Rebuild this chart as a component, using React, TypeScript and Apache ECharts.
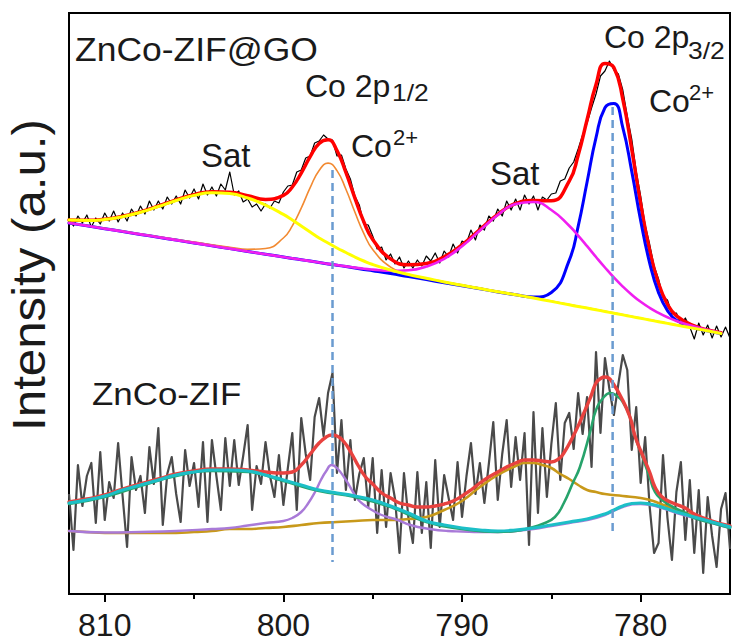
import React, { useEffect, useRef } from "react";
import * as echarts from "echarts";

const FONT = '"Liberation Sans", Arial, Helvetica, sans-serif';

// ---------- axes ----------
const xMin = 775;
const xMax = 812;
const majorTicks = [810, 800, 790, 780];
const minorTicks = [805, 795, 785];
const yMin = 0;
const yMax = 581; // arbitrary intensity units

// ---------- ZnCo-ZIF@GO (upper spectrum) ----------
const topFitEnergy = [
  812, 811, 810, 809, 808, 807, 806, 805, 804, 803, 802, 801, 800,
  799.5, 799, 798.5, 798, 797.5, 797, 796.5, 796, 795.5, 795,
  794, 793, 792, 791, 790, 789, 788, 787, 786, 785, 784,
  783.5, 783, 782.5, 782, 781.5, 781, 780.5, 780, 779.5, 779, 778.5, 778,
  777, 776, 775.5,
];
const topEnvelope = [
  374.1, 373.7, 374.8, 377.7, 382.1, 388.0, 394.1, 399.4, 402.2, 401.8, 398.2, 394.6, 398.6,
  407.0, 420.9, 437.3, 450.6, 454.2, 443.3, 421.5, 396.1, 372.4, 354.6,
  335.1, 329.3, 330.6, 337.1, 349.1, 364.3, 379.7, 390.5, 393.4, 393.2, 412.9,
  438.8, 474.2, 509.4, 530.6, 526.5, 494.9, 444.8, 390.1, 343.6, 310.4, 289.7, 278.2,
  268.1, 263.1, 261.2,
];
const topSatA = [
  373.9, 373.5, 374.5, 377.3, 381.7, 387.5, 393.5, 398.6, 401.2, 400.4, 396.0, 388.9, 379.6,
  374.0, 368.0, 362.0, 356.0, 351.0, 346.0, 341.5, 337.0, 333.0, 329.5,
  324.0, 319.5, 315.8, 312.0, 308.7, 305.4, 302.2, 299.2, 296.0, 292.6, 289.2,
  287.5, 285.9, 284.2, 282.5, 280.8, 279.1, 277.4, 275.7, 274.0, 272.3, 270.6, 268.9,
  265.6, 262.2, 260.5,
];
const topCo2p12 = [
  371.2, 368.4, 365.6, 362.9, 360.0, 357.3, 354.5, 351.9, 349.2, 346.8, 344.7, 345.5, 356.0,
  368.1, 385.9, 406.3, 423.5, 430.9, 423.4, 404.7, 382.0, 360.6, 344.5,
  326.9, 319.8, 315.8, 312.3, 309.1, 305.9, 302.7, 299.6, 296.4, 292.9, 289.5,
  287.8, 286.2, 284.5, 282.8, 281.1, 279.4, 277.6, 275.9, 274.2, 272.5, 270.8, 269.1,
  265.8, 262.4, 260.7,
];
const topSatB = [
  371.0, 368.2, 365.3, 362.5, 359.6, 356.8, 353.9, 351.1, 348.2, 345.4, 342.5, 339.8, 337.0,
  335.6, 334.3, 332.9, 331.5, 330.1, 328.9, 327.6, 326.4, 325.2, 324.4,
  323.2, 323.7, 327.4, 335.2, 347.8, 363.4, 379.0, 389.9, 392.0, 384.0, 368.2,
  358.3, 347.8, 337.0, 326.5, 316.5, 307.4, 299.3, 292.2, 286.2, 281.1, 276.7, 273.1,
  267.4, 262.9, 261.0,
];
const topCo2p32 = [
  371.0, 368.2, 365.3, 362.5, 359.6, 356.8, 353.9, 351.1, 348.2, 345.4, 342.5, 339.8, 337.0,
  335.6, 334.3, 332.9, 331.5, 330.1, 328.8, 327.4, 326.0, 324.6, 323.3,
  320.5, 317.4, 314.4, 311.3, 308.3, 305.2, 302.1, 299.2, 297.0, 301.5, 333.6,
  367.7, 412.0, 456.3, 486.3, 490.5, 466.3, 422.6, 373.4, 331.2, 301.4, 283.4, 273.8,
  266.1, 262.2, 260.5,
];
// raw counts, 812 -> 775 eV in 0.25 eV steps (one row per eV)
const topRawStart = 812;
const topRawStep = 0.25;
const topRaw = [
  374,
  368, 378, 371, 379,
  367, 376, 370, 381,
  373, 383, 372, 381,
  373, 385, 378, 388,
  380, 393, 384, 393,
  385, 397, 390, 398,
  390, 404, 396, 405,
  395, 410, 399, 407,
  398, 410, 404, 422,
  399, 403, 392, 395,
  387, 390, 383, 390,
  386, 393, 391, 402,
  408, 409, 422, 424,
  436, 438, 451, 453,
  459, 455, 454, 438,
  439, 425, 415, 398,
  389, 370, 369, 358,
  345, 347, 334, 340,
  330, 337, 326, 333,
  326, 334, 328, 338,
  333, 341, 331, 343,
  337, 350, 341, 353,
  351, 364, 354, 369,
  364, 378, 373, 385,
  378, 393, 384, 395,
  384, 399, 390, 398,
  384, 397, 394, 400,
  401, 413, 415, 426,
  432, 445, 459, 471,
  486, 500, 518, 523,
  533, 524, 520, 504,
  478, 455, 423, 398,
  369, 350, 328, 315,
  297, 294, 280, 281,
  270, 276, 267, 255,
  271, 259, 269, 256,
  268, 257, 267, 256,
];

// ---------- ZnCo-ZIF (lower spectrum) ----------
// raw counts, 812 -> 775 eV in 0.25 eV steps (one row per eV)
const botRawStart = 812;
const botRawStep = 0.25;
const botRaw = [
  100,
  44, 129, 88, 118,
  131, 71, 142, 74,
  112, 96, 151, 98,
  47, 137, 104, 118,
  81, 147, 110, 166,
  69, 120, 137, 100,
  72, 144, 108, 131,
  87, 152, 72, 154,
  118, 84, 156, 108,
  154, 109, 138, 169,
  84, 128, 110, 152,
  118, 97, 139, 89,
  126, 161, 84, 176,
  140, 114, 177, 196,
  158, 201, 221, 121,
  174, 104, 154, 94,
  120, 136, 87, 136,
  61, 124, 67, 121,
  95, 41, 121, 76,
  51, 122, 61, 112,
  46, 134, 67, 119,
  96, 74, 132, 77,
  118, 151, 100, 131,
  91, 130, 172, 94,
  140, 174, 107, 157,
  114, 161, 49, 182,
  81, 166, 97, 150,
  191, 114, 171, 181,
  145, 201, 160, 197,
  127, 242, 161, 236,
  205, 179, 210, 239,
  224, 144, 187, 111,
  157, 88, 41, 51,
  139, 76, 34, 102,
  132, 54, 114, 41,
  104, 21, 97, 58,
  27, 85, 101, 45,
];
const botEnvelope: [number, number][] = [
  [812, 92], [811, 95], [810, 99], [809, 105], [808, 110], [807, 115], [806, 120], [805, 123],
  [804, 125], [803, 125], [802, 124], [801, 122], [800, 121], [799.5, 122], [799, 129],
  [798.5, 140], [798, 151], [797.6, 157], [797.3, 159], [797, 158], [796.6, 152], [796.2, 141],
  [795.8, 128], [795.4, 117], [795, 110], [794.5, 101], [794, 96], [793.5, 91], [793, 89],
  [792.5, 87], [792, 87], [791.5, 88], [791, 90], [790.5, 93], [790, 98], [789.5, 104],
  [789, 111], [788.5, 117], [788, 122], [787.5, 127], [787, 131], [786.5, 134], [786, 134],
  [785.5, 133], [785, 132], [784.6, 135], [784.3, 141], [783.8, 157], [783.4, 172],
  [782.8, 197], [782.5, 211], [782.2, 216], [782.0, 217], [781.8, 216], [781.6, 212],
  [781.1, 197], [780.6, 177], [780.3, 157], [779.9, 139], [779.5, 122], [779.2, 107],
  [778.8, 97], [778.2, 91], [777.5, 86], [777, 80], [776, 73], [775, 68],
];
const botBackgroundSat: [number, number][] = [
  [812, 91], [811, 94], [810, 98], [809, 104], [808, 109], [807, 114], [806, 119], [805, 122],
  [804, 124], [803, 124], [802, 123], [801, 119], [800, 114], [799, 109], [798, 104], [797, 101],
  [796, 98], [795, 94], [794, 88], [793, 81], [792, 73], [791, 69], [790, 66], [789, 64],
  [788, 63], [787, 64], [786, 66], [785, 69], [784, 72], [783, 75], [782, 80], [781.5, 84],
  [781, 88], [780.5, 90.5], [780, 91], [779.5, 90], [779, 88], [778, 82], [777, 77], [776, 72],
  [775, 67],
];
const botSat: [number, number][] = [
  [812, 63], [811, 62], [810, 61], [809, 61], [808, 61], [807, 61], [806, 61], [805, 62],
  [804, 63], [803, 65], [802, 65], [801, 66], [800, 67], [799, 69], [798, 71], [797, 72],
  [796, 73], [795, 74], [794, 74], [793, 75], [792, 77], [791, 84], [790, 93], [789, 107],
  [788, 119], [787, 128], [786.5, 131], [786, 131], [785.5, 129], [785, 126], [784.5, 120],
  [784, 115], [783.5, 109], [783, 104], [782.5, 102], [782, 100], [781, 98], [780, 96],
  [779.5, 94], [779, 91], [778, 84], [777, 78], [776, 72], [775, 67],
];
const botCo2p12: [number, number][] = [
  [812, 63], [810, 61.5], [808, 62], [806, 63], [804, 65], [803, 66], [802, 68.5], [801, 71],
  [800, 73], [799.5, 76], [799, 82], [798.6, 91], [798.2, 103], [797.9, 114], [797.6, 123],
  [797.3, 129], [797, 126], [796.5, 114], [796.1, 102], [795.8, 94], [795.4, 88], [795.05, 84],
  [794.5, 79], [793.6, 74], [792.9, 69], [791.8, 65], [790.8, 63], [790, 62.5], [789, 62],
  [788, 62], [787, 63], [786, 65], [785, 68], [784, 71], [783, 74], [782, 79], [781, 87],
  [780, 90], [779, 87], [778, 81], [777, 76], [776, 71], [775, 66],
];
const botCo2p32: [number, number][] = [
  [812, 90], [810, 97], [808, 108], [806, 118], [804, 123], [802, 122], [800, 113], [798, 103],
  [796, 97], [794, 87], [792, 72], [790, 65], [788, 62], [787, 63], [786.2, 66], [785.5, 70],
  [784.8, 77], [784.3, 91], [783.8, 111], [783.4, 127], [782.8, 164], [782.5, 184],
  [782.1, 196], [781.7, 201], [781.4, 199], [781.0, 192], [780.6, 177], [780.3, 157],
  [779.9, 137], [779.5, 117], [779.2, 102], [778.8, 94], [778.2, 87], [777.5, 81], [777, 76],
  [776, 71], [775, 66],
];

// ---------- reference lines (peak positions) ----------
const peakLines = [
  { energy: 797.25, from: 424, to: 32 },
  { energy: 781.57, from: 487, to: 63 },
];

const zip = (xs: number[], ys: number[]) => xs.map((x, i) => [x, ys[i]]);
const grid = (start: number, step: number, ys: number[]) => ys.map((y, i) => [+(start - i * step).toFixed(2), y]);

function fitLine(data: any[], color: string, width: number) {
  return {
    type: "line",
    data,
    symbol: "none",
    smooth: 0.5,
    lineStyle: { color, width, cap: "round", join: "round" },
    silent: true,
  };
}
function rawLine(data: any[], color: string, width: number) {
  return {
    type: "line",
    data,
    symbol: "none",
    lineStyle: { color, width, join: "round" },
    silent: true,
  };
}

function txt(text: string, x: number, y: number, size: number, extra: any = {}) {
  const { align, ...rest } = extra;
  return {
    type: "text",
    x,
    y,
    silent: true,
    z: 100,
    ...rest,
    style: {
      text,
      fontSize: size,
      fontFamily: FONT,
      fill: "#1a1a1a",
      align: align || "left",
      verticalAlign: "middle",
      textAlign: align || "left",
      textVerticalAlign: "middle",
    },
  };
}

export default function App() {
  const ref = useRef<HTMLDivElement>(null);
  useEffect(() => {
    if (!ref.current) return;
    const chart = echarts.init(ref.current, null, { renderer: "svg" });
    const series: any[] = [
      rawLine(grid(topRawStart, topRawStep, topRaw), "#000000", 1.2),
      fitLine(zip(topFitEnergy, topEnvelope), "#ff0000", 3.5),
      fitLine(zip(topFitEnergy, topCo2p32), "#0000ff", 3),
      fitLine(zip(topFitEnergy, topCo2p12), "#f28a32", 1.6),
      fitLine(zip(topFitEnergy, topSatB), "#f01ef0", 2.6),
      fitLine(zip(topFitEnergy, topSatA), "#ffff00", 3),
      rawLine(grid(botRawStart, botRawStep, botRaw), "#4a4a4a", 2.2),
      fitLine(botSat, "#c8991a", 2.6),
      fitLine(botCo2p12, "#a97ad8", 2.4),
      fitLine(botCo2p32, "#27a36b", 2.6),
      fitLine(botEnvelope, "#e8423f", 3.4),
      fitLine(botBackgroundSat, "#1cbfc7", 3.2),
      ...peakLines.map((p) => ({
        type: "line",
        data: [
          [p.energy, p.from],
          [p.energy, p.to],
        ],
        symbol: "none",
        silent: true,
        z: 5,
        lineStyle: { color: "#6a9bd0", width: 2.5, type: [8, 5] },
      })),
    ];

    chart.setOption({
      animation: false,
      backgroundColor: "#ffffff",
      grid: {
        left: 69,
        right: 4,
        top: 13,
        bottom: 48,
        show: true,
        borderColor: "#000",
        borderWidth: 2,
        backgroundColor: "transparent",
      },
      xAxis: [
        {
          type: "value",
          min: xMin,
          max: xMax,
          inverse: true,
          position: "bottom",
          axisLine: { show: true, lineStyle: { color: "#000", width: 2 } },
          axisTick: { show: true, inside: false, length: 8, customValues: majorTicks, lineStyle: { color: "#000", width: 2 } },
          axisLabel: {
            show: true,
            customValues: majorTicks,
            fontSize: 32,
            fontFamily: FONT,
            color: "#1a1a1a",
            margin: 15,
          },
          splitLine: { show: false },
        },
        {
          type: "value",
          min: xMin,
          max: xMax,
          inverse: true,
          position: "bottom",
          axisLine: { show: false },
          axisTick: { show: true, inside: false, length: 5, customValues: minorTicks, lineStyle: { color: "#000", width: 2 } },
          axisLabel: { show: false },
          splitLine: { show: false },
        },
      ],
      yAxis: {
        type: "value",
        min: yMin,
        max: yMax,
        show: false,
        splitLine: { show: false },
      },
      series,
      graphic: [
        txt("Intensity (a.u.)", 29, 275, 46, { rotation: Math.PI / 2, align: "center", scaleX: 1.07 }),
        txt("ZnCo-ZIF@GO", 75, 49, 33, { scaleX: 1.075 }),
        txt("Co 2p", 305, 86, 32),
        txt("1/2", 392, 93, 23, { scaleX: 1.15 }),
        txt("Co", 351, 146, 32),
        txt("2+", 393, 137, 22),
        txt("Sat", 201, 155, 33),
        txt("Sat", 490, 173, 33),
        txt("Co 2p", 604, 37, 32),
        txt("3/2", 688, 51, 23, { scaleX: 1.15 }),
        txt("Co", 649, 101, 32),
        txt("2+", 689, 92, 22),
        txt("ZnCo-ZIF", 92, 394, 32, { scaleX: 1.09 }),
      ],
    });
    return () => chart.dispose();
  }, []);
  return (
    <div
      ref={ref}
      style={{ position: "fixed", left: 0, top: 0, width: 734, height: 642, background: "#fff" }}
    />
  );
}
